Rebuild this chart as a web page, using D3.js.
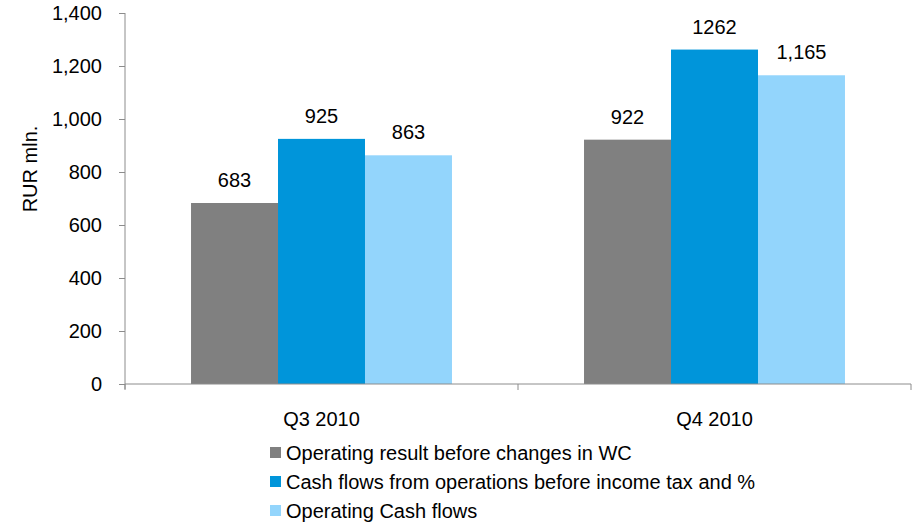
<!DOCTYPE html>
<html>
<head>
<meta charset="utf-8">
<script src="https://cdn.jsdelivr.net/npm/d3@7"></script>
<style>
  html, body { margin: 0; padding: 0; background: #fff; }
  svg { display: block; font-family: "Liberation Sans", Arial, sans-serif; }
</style>
</head>
<body>
<svg id="chart" width="913" height="525"></svg>
<script>
// Quarterly cash-flow figures, RUR mln.
const categories = ["Q3 2010", "Q4 2010"];
const seriesNames = [
  "Operating result before changes in WC",
  "Cash flows from operations before income tax and %",
  "Operating Cash flows"
];
const operatingResult = [683, 922];
const cashFromOps = [925, 1262];
const operatingCash = [863, 1165];
const valueLabels = [["683", "922"], ["925", "1262"], ["863", "1,165"]];
const yTicks = [0, 200, 400, 600, 800, 1000, 1200, 1400];
const colors = ["#808080", "#0095DA", "#93D5FC"];

const series = [operatingResult, cashFromOps, operatingCash];

const svg = d3.select("#chart");
const plotLeft = 125, plotRight = 911, plotTop = 13, plotBottom = 384;
const axisColor = "#8c8c8c";
const fontSize = 20;

const y = d3.scaleLinear().domain([0, 1400]).range([plotBottom, plotTop]);
const x0 = d3.scaleBand().domain(categories).range([plotLeft, plotRight])
  .paddingInner(0.336).paddingOuter(0.168);
const x1 = d3.scaleBand().domain(d3.range(series.length)).range([0, x0.bandwidth()]);

// Bars with value labels
categories.forEach((c, ci) => {
  const g = svg.append("g").attr("transform", `translate(${x0(c)},0)`);
  series.forEach((s, si) => {
    g.append("rect")
      .attr("x", x1(si))
      .attr("y", y(s[ci]))
      .attr("width", x1.bandwidth())
      .attr("height", y(0) - y(s[ci]))
      .attr("fill", colors[si]);
    g.append("text")
      .attr("x", x1(si) + x1.bandwidth() / 2)
      .attr("y", y(s[ci]) - 16)
      .attr("text-anchor", "middle")
      .attr("font-size", fontSize)
      .attr("fill", "#000")
      .text(valueLabels[si][ci]);
  });
});

// Y axis
const yAxis = svg.append("g").attr("transform", `translate(${plotLeft},0)`)
  .call(d3.axisLeft(y).tickValues(yTicks).tickSize(6).tickPadding(17)
    .tickFormat(d3.format(",")));
yAxis.select(".domain").attr("stroke", axisColor).attr("d", `M0,${plotTop}V${plotBottom + 5}`);
yAxis.selectAll(".tick line").attr("stroke", axisColor);
yAxis.selectAll(".tick text").attr("font-size", fontSize).attr("fill", "#000")
  .attr("font-family", "Liberation Sans, Arial, sans-serif");

// X axis with ticks on category boundaries
const xg = svg.append("g");
xg.append("line").attr("x1", plotLeft).attr("x2", plotRight)
  .attr("y1", plotBottom).attr("y2", plotBottom)
  .attr("stroke", axisColor);
const step = x0.step();
d3.range(categories.length + 1).forEach(i => {
  const xx = plotLeft + i * step;
  xg.append("line").attr("x1", xx).attr("x2", xx)
    .attr("y1", plotBottom).attr("y2", plotBottom + 6)
    .attr("stroke", axisColor);
});
categories.forEach(c => {
  xg.append("text")
    .attr("x", x0(c) + x0.bandwidth() / 2)
    .attr("y", 426)
    .attr("text-anchor", "middle")
    .attr("font-size", fontSize)
    .text(c);
});

// Y axis title
svg.append("text")
  .attr("transform", "translate(37,169) rotate(-90)")
  .attr("text-anchor", "middle")
  .attr("font-size", fontSize)
  .text("RUR mln.");

// Legend
seriesNames.forEach((name, i) => {
  const ly = 447 + i * 29;
  svg.append("rect").attr("x", 270).attr("y", ly).attr("width", 11).attr("height", 11)
    .attr("fill", colors[i]);
  svg.append("text").attr("x", 286).attr("y", ly + 13)
    .attr("font-size", fontSize).text(name);
});
</script>
</body>
</html>
